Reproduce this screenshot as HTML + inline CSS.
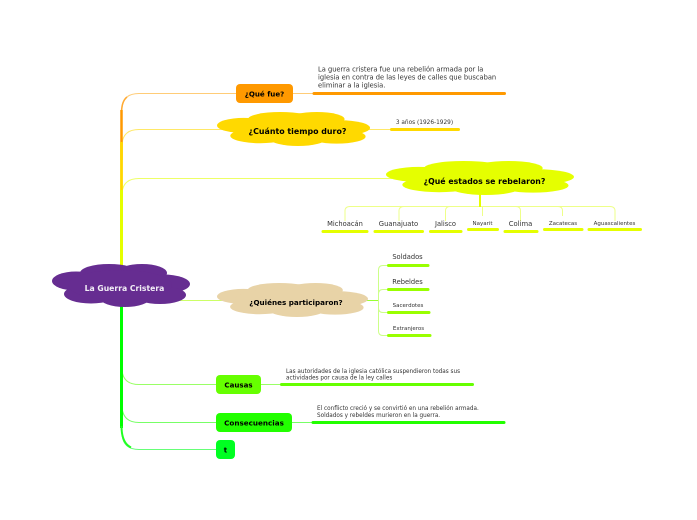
<!DOCTYPE html>
<html><head><meta charset="utf-8">
<style>
html,body{margin:0;padding:0;background:#fff;width:697px;height:520px;overflow:hidden}
svg{display:block}
text{font-family:"DejaVu Sans",sans-serif;fill:#333}
.b{font-weight:bold;fill:#000}
</style></head>
<body>
<svg width="697" height="520" viewBox="0 0 697 520" xmlns="http://www.w3.org/2000/svg">
<defs>
<g id="cloud">
<ellipse cx="76" cy="281" rx="24" ry="9.5"/>
<ellipse cx="109" cy="273" rx="29" ry="9"/>
<ellipse cx="142" cy="273" rx="25" ry="9"/>
<ellipse cx="163" cy="284" rx="27" ry="9.5"/>
<ellipse cx="160" cy="295" rx="26" ry="9"/>
<ellipse cx="125" cy="298" rx="25" ry="9"/>
<ellipse cx="91" cy="294" rx="27" ry="9.5"/>
<ellipse cx="120" cy="285" rx="52" ry="15"/>
</g>
</defs>

<!-- branch connectors -->
<g fill="none" stroke-width="1">
<path d="M122 110 Q122 93.500 139 93.500 H236" stroke="#ffcc77"/>
<path d="M122 146 Q122 129.500 139 129.500 H225" stroke="#ffe866"/>
<path d="M122 195 Q122 178.500 139 178.500 H392" stroke="#eeff66"/>
<path d="M170 300.500 H225" stroke="#ccff66"/>
<path d="M122 368 Q122 384.500 139 384.500 H216" stroke="#99ff66"/>
<path d="M122 405 Q122 422.500 139 422.500 H216" stroke="#77ff66"/>
<path d="M122 432 Q122 449.500 139 449.500 H216" stroke="#66ff77"/>
<path d="M293 93.500 H313" stroke="#ffcc77"/>
<path d="M360 129.500 H391" stroke="#ffe866"/>
<path d="M261 384.500 H281" stroke="#99ff66"/>
<path d="M292 422.500 H312" stroke="#77ff66"/>
</g>
<!-- trunk -->
<g fill="none">
<path d="M121.500 112 Q121.800 101 127 97" stroke="#ffaa33" stroke-width="1.500"/>
<path d="M121.500 160 V110" stroke="#ff9900" stroke-width="2.500"/>
<path d="M121.500 198 V142" stroke="#ffd700" stroke-width="2.800"/>
<path d="M121.500 270 V190" stroke="#e5ff00" stroke-width="3"/>
<path d="M121.500 300 V428" stroke="#00ff00" stroke-width="3"/>
<path d="M121.500 426 Q121.500 443 131 447.500" stroke="#22ff22" stroke-width="2"/>
</g>

<!-- estados connectors -->
<g fill="none" stroke="#eeff88" stroke-width="1">
<path d="M345 221 V211 Q345 206.500 350 206.500 H610 Q615 206.500 615 211 V221"/>
<path d="M399 221 V211 Q399 206.500 404 206.500"/>
<path d="M445.500 221 V211 Q445.500 206.500 450 206.500"/>
<path d="M482.500 216 V206.500"/>
<path d="M520.500 221 V211 Q520.500 206.500 516 206.500"/>
<path d="M562.500 216 V211 Q562.500 206.500 558 206.500"/>
</g>
<path d="M480 190 V207" stroke="#e5ff00" stroke-width="2" fill="none"/>

<!-- quienes connectors -->
<g fill="none" stroke="#ccff88" stroke-width="1">
<path d="M388 265.500 H383 Q378.500 265.500 378.500 270 V331 Q378.500 335.500 383 335.500 H388"/>
<path d="M388 289.500 H383 Q378.500 289.500 378.500 294"/>
<path d="M388 312.500 H383 Q378.500 312.500 378.500 308"/>
</g>
<path d="M360 300.500 H378" stroke="#99ff33" stroke-width="1" fill="none"/>

<!-- clouds -->
<use href="#cloud" fill="#662d91"/>
<use href="#cloud" fill="#ffd900" transform="translate(217,112) scale(1.109,0.791) translate(-52,-264)"/>
<use href="#cloud" fill="#e5ff00" transform="translate(386,161) scale(1.362,0.791) translate(-52,-264)"/>
<use href="#cloud" fill="#e8d3a7" transform="translate(217,283) scale(1.094,0.791) translate(-52,-264)"/>

<!-- rounded nodes -->
<rect x="236" y="84" width="57" height="19" rx="4" fill="#ff9900"/>
<rect x="216" y="375" width="45" height="19" rx="4" fill="#66ff00"/>
<rect x="216" y="413" width="76" height="19" rx="4" fill="#22ff00"/>
<rect x="216" y="440" width="19" height="19" rx="4" fill="#00ff22"/>

<!-- underlines -->
<g fill="none" stroke-width="3" stroke-linecap="round">
<path d="M314 93.500 H504.500" stroke="#ff9900"/>
<path d="M391.500 129.500 H458.500" stroke="#ffd900"/>
<path d="M323 231.500 H367" stroke="#e5ff00"/>
<path d="M375 231.500 H422.500" stroke="#e5ff00"/>
<path d="M430.500 231.500 H461" stroke="#e5ff00"/>
<path d="M468.500 229.500 H497.500" stroke="#e5ff00"/>
<path d="M505 231.500 H537" stroke="#e5ff00"/>
<path d="M544.500 229.500 H582" stroke="#e5ff00"/>
<path d="M589 229.500 H640.500" stroke="#e5ff00"/>
<path d="M388.500 265.500 H428" stroke="#99ff00"/>
<path d="M388.500 289.500 H428" stroke="#99ff00"/>
<path d="M388.500 312.500 H429" stroke="#99ff00"/>
<path d="M388.500 335.500 H430" stroke="#99ff00"/>
<path d="M281.500 384.500 H472.500" stroke="#66ff00"/>
<path d="M313 422.500 H504" stroke="#22ff00"/>
</g>

<!-- labels -->
<text x="124.500" y="291" font-size="7.700" font-weight="bold" text-anchor="middle" style="fill:#f2eef6">La Guerra Cristera</text>
<text x="264.500" y="96.500" font-size="7.100" class="b" text-anchor="middle">¿Qué fue?</text>
<text x="297.500" y="134" font-size="7.900" class="b" text-anchor="middle">¿Cuánto tiempo duro?</text>
<text x="484.500" y="184" font-size="7.800" class="b" text-anchor="middle">¿Qué estados se rebelaron?</text>
<text x="296" y="305" font-size="7.200" class="b" text-anchor="middle">¿Quiénes participaron?</text>
<text x="238.500" y="387.500" font-size="7.100" class="b" text-anchor="middle">Causas</text>
<text x="254" y="425.500" font-size="7.200" class="b" text-anchor="middle">Consecuencias</text>
<text x="225.500" y="452.500" font-size="7.100" class="b" text-anchor="middle">t</text>

<text x="318" y="71.500" font-size="6.700">La guerra cristera fue una rebelión armada por la</text>
<text x="318" y="79.500" font-size="6.700">iglesia en contra de las leyes de calles que buscaban</text>
<text x="318" y="87.500" font-size="6.700">eliminar a la iglesia.</text>
<text x="424.500" y="124" font-size="5.800" text-anchor="middle">3 años (1926-1929)</text>

<text x="345" y="226" font-size="6.700" text-anchor="middle">Michoacán</text>
<text x="398.500" y="226" font-size="6.800" text-anchor="middle">Guanajuato</text>
<text x="445.500" y="226" font-size="6.700" text-anchor="middle">Jalisco</text>
<text x="482.500" y="225" font-size="5.500" text-anchor="middle">Nayarit</text>
<text x="520.500" y="226" font-size="6.800" text-anchor="middle">Colima</text>
<text x="563" y="225" font-size="5.500" text-anchor="middle">Zacatecas</text>
<text x="614.500" y="225" font-size="5.500" text-anchor="middle">Aguascalientes</text>

<text x="407.500" y="259" font-size="6.700" text-anchor="middle">Soldados</text>
<text x="407.500" y="284" font-size="6.700" text-anchor="middle">Rebeldes</text>
<text x="408" y="307" font-size="5.500" text-anchor="middle">Sacerdotes</text>
<text x="408.500" y="330" font-size="5.500" text-anchor="middle">Extranjeros</text>

<text x="286" y="373" font-size="5.700">Las autoridades de la iglesia católica suspendieron todas sus</text>
<text x="286" y="379.500" font-size="5.700">actividades por causa de la ley calles</text>
<text x="317" y="410" font-size="5.700">El conflicto creció y se convirtió en una rebelión armada.</text>
<text x="317" y="417" font-size="5.700">Soldados y rebeldes murieron en la guerra.</text>
</svg>
</body></html>
